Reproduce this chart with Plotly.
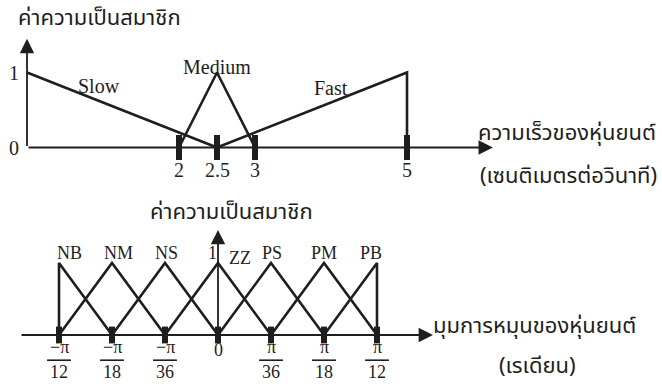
import numpy as np
import plotly.graph_objects as go

# ---- speed membership functions (cm/s) ----
speed_ticks = [2, 2.5, 3, 5]
speed_tick_text = ["2", "2.5", "3", "5"]
slow_x, slow_y = [0, 2.5], [1, 0]
medium_x, medium_y = [2, 2.5, 3], [0, 1, 0]
fast_x, fast_y = [2.5, 5, 5], [0, 1, 0]
speed_terms = ["Slow", "Medium", "Fast"]
speed_term_pos = [(0.95, 0.82), (2.5, 1.08), (4.0, 0.79)]

# ---- rotation-angle membership functions (rad) ----
angle_ticks = [-np.pi / 12, -np.pi / 18, -np.pi / 36, 0, np.pi / 36, np.pi / 18, np.pi / 12]
angle_num = ["−π", "−π", "−π", "0", "π", "π", "π"]
angle_den = ["12", "18", "36", "", "36", "18", "12"]
angle_terms = ["NB", "NM", "NS", "ZZ", "PS", "PM", "PB"]
a = angle_ticks
angle_sets = [
    ([a[0], a[0], a[1]], [0, 1, 0]),
    ([a[0], a[1], a[2]], [0, 1, 0]),
    ([a[1], a[2], a[3]], [0, 1, 0]),
    ([a[2], a[3], a[4]], [0, 1, 0]),
    ([a[3], a[4], a[5]], [0, 1, 0]),
    ([a[4], a[5], a[6]], [0, 1, 0]),
    ([a[5], a[6], a[6]], [0, 1, 0]),
]

INK = "#1e1e1e"
SERIF = "Liberation Serif, Times New Roman, serif"
THAI = "Noto Sans Thai, Loma, Garuda, Norasi, Tlwg Typo, Noto Serif Thai, sans-serif"
W, H = 662, 391

fig = go.Figure()

line_style = dict(color=INK, width=2.6)
for xs, ys in [(slow_x, slow_y), (medium_x, medium_y), (fast_x, fast_y)]:
    fig.add_trace(go.Scatter(x=xs, y=ys, mode="lines", line=line_style,
                             xaxis="x", yaxis="y", hoverinfo="skip"))
for xs, ys in angle_sets:
    fig.add_trace(go.Scatter(x=xs, y=ys, mode="lines", line=line_style,
                             xaxis="x2", yaxis="y2", hoverinfo="skip"))

# tick marks (thick short bars on the axis lines)
fig.add_trace(go.Scatter(x=speed_ticks, y=[0] * len(speed_ticks), mode="markers",
                         marker=dict(symbol="line-ns-open", size=18, color=INK,
                                     line=dict(color=INK, width=6)),
                         xaxis="x", yaxis="y", hoverinfo="skip"))
fig.add_trace(go.Scatter(x=angle_ticks, y=[0] * len(angle_ticks), mode="markers",
                         marker=dict(symbol="line-ns-open", size=12, color=INK,
                                     line=dict(color=INK, width=6)),
                         xaxis="x2", yaxis="y2", hoverinfo="skip"))

# fraction bars under the numerators
frac_x = [v for v, d in zip(angle_ticks, angle_den) if d]
fig.add_trace(go.Scatter(x=frac_x, y=[-0.35] * len(frac_x), mode="markers",
                         marker=dict(symbol="line-ew-open", size=17, color=INK,
                                     line=dict(color=INK, width=1.6)),
                         xaxis="x2", yaxis="y2", hoverinfo="skip"))

ann = []


def arrow(x0, y0, x1, y1, xr, yr):
    ann.append(dict(x=x1, y=y1, ax=x0, ay=y0, xref=xr, yref=yr, axref=xr, ayref=yr,
                    showarrow=True, arrowhead=2, arrowsize=1.6, arrowwidth=1.8,
                    arrowcolor=INK, text=""))


# axis lines with arrowheads
arrow(0, 0, 6.13, 0, "x", "y")
arrow(0, 0, 0, 1.45, "x", "y")
arrow(-0.326, 0, 0.354, 0, "x2", "y2")
arrow(0, 0, 0, 1.46, "x2", "y2")

num_font = dict(family=SERIF, size=20, color=INK)
term_font = dict(family=SERIF, size=20, color=INK)

for v, t in zip(speed_ticks, speed_tick_text):
    ann.append(dict(x=v, y=-0.3, xref="x", yref="y", text=t, showarrow=False, font=num_font))
ann.append(dict(x=0, y=1, xref="x", yref="y", text="1", showarrow=False, xshift=-13, font=num_font))
ann.append(dict(x=0, y=0, xref="x", yref="y", text="0", showarrow=False, xshift=-13, font=num_font))
for t, (px, py) in zip(speed_terms, speed_term_pos):
    ann.append(dict(x=px, y=py, xref="x", yref="y", text=t, showarrow=False, font=term_font))

for v, n, d in zip(angle_ticks, angle_num, angle_den):
    ann.append(dict(x=v, y=-0.17 if d else -0.21, xref="x2", yref="y2", text=n,
                    showarrow=False, font=dict(family=SERIF, size=18, color=INK)))
    if d:
        ann.append(dict(x=v, y=-0.52, xref="x2", yref="y2", text=d,
                        showarrow=False, font=dict(family=SERIF, size=18, color=INK)))

term_shift = [(10, 0), (6, 0), (1, 0), (22, -5), (1, 0), (0, 0), (-6, 0)]
for v, t, (dx, dy) in zip(angle_ticks, angle_terms, term_shift):
    ann.append(dict(x=v, y=1.14, xref="x2", yref="y2", text=t, showarrow=False,
                    xshift=dx, yshift=dy, font=dict(family=SERIF, size=18, color=INK)))
ann.append(dict(x=0, y=1.14, xref="x2", yref="y2", text="1", showarrow=False,
                xshift=-6, font=dict(family=SERIF, size=18, color=INK)))


# Thai captions
def thai(text, px, py, anchor="left", size=22):
    ann.append(dict(x=px / W, y=1 - py / H, xref="paper", yref="paper", text=text,
                    showarrow=False, xanchor=anchor, yanchor="middle",
                    font=dict(family=THAI, size=size, color=INK)))


thai("ค่าความเป็นสมาชิก", 16, 19)
thai("ความเร็วของหุ่นยนต์", 476, 133)
thai("(เซนติเมตรต่อวินาที)", 478, 176)
thai("ค่าความเป็นสมาชิก", 148, 212)
thai("มุมการหมุนของหุ่นยนต์", 431, 326)
thai("(เรเดียน)", 537, 366, anchor="center")

# px per unit: top 76 px / (cm/s), 75 px / membership; bottom 53 px per pi/36, 72 px / membership
sx, sx2 = 76.0, 53.0 / (np.pi / 36)
z_top, k_top = 147.5, 75.0
hidden = dict(visible=False, showgrid=False, zeroline=False, fixedrange=True)
fig.update_layout(
    width=W, height=H, margin=dict(l=0, r=0, t=0, b=0),
    paper_bgcolor="white", plot_bgcolor="white", showlegend=False,
    xaxis=dict(domain=[0, 1], range=[-27 / sx, (W - 27) / sx], anchor="y", **hidden),
    yaxis=dict(domain=[0.5, 1], range=[(z_top - 195.5) / k_top, z_top / k_top], anchor="x", **hidden),
    xaxis2=dict(domain=[0, 1], range=[-218 / sx2, (W - 218) / sx2], anchor="y2", **hidden),
    yaxis2=dict(domain=[0, 0.5], range=[(335 - 391) / 72, (335 - 195.5) / 72], anchor="x2", **hidden),
    annotations=ann,
)

fig.write_html("out.html")
